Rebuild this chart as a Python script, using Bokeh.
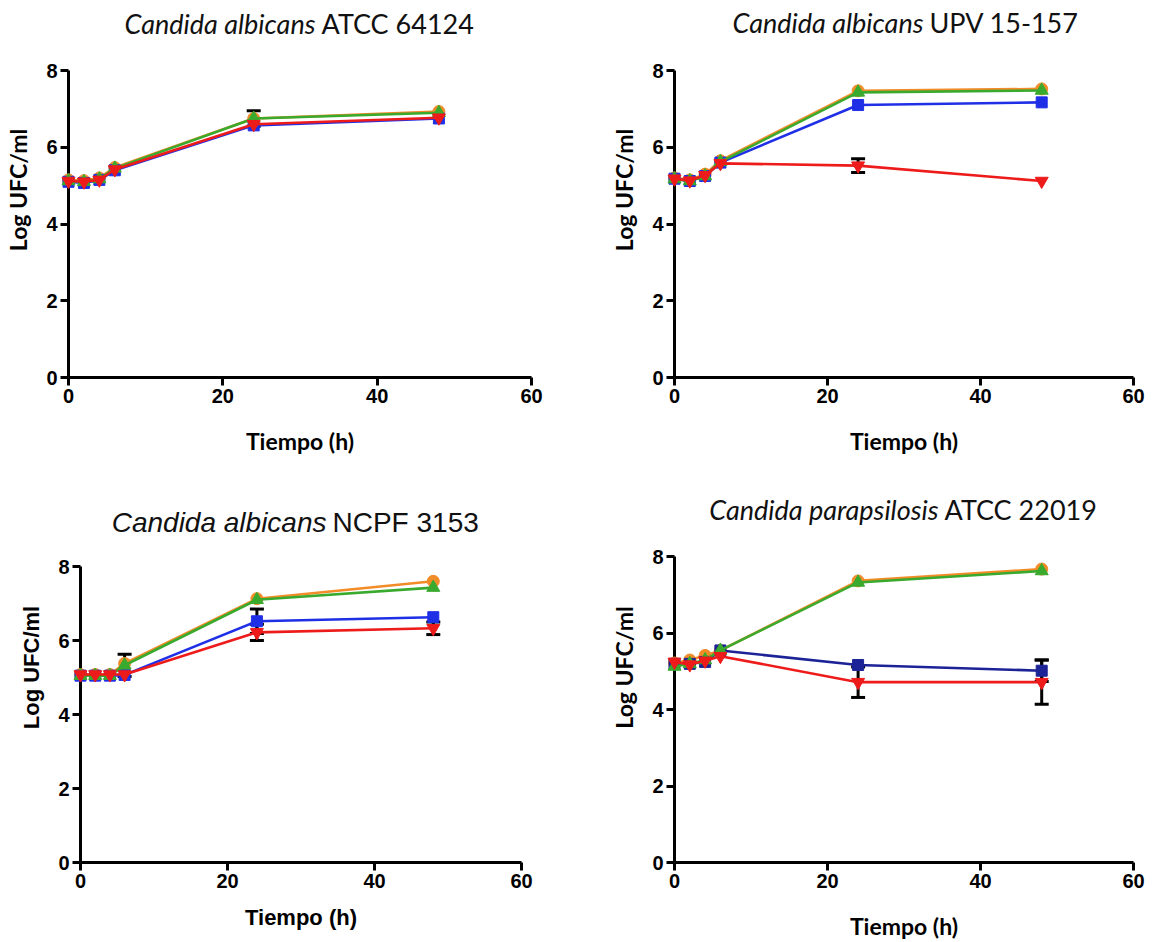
from bokeh.plotting import figure
from bokeh.layouts import column, row
from bokeh.models import Range1d, FixedTicker, Label, Whisker, TeeHead, ColumnDataSource
from bokeh.embed import file_html
from bokeh.resources import INLINE

# ---------------- data ----------------
tiempo = [0, 2, 4, 6, 24, 48]
x_ticks = [0, 20, 40, 60]
y_ticks = [0, 2, 4, 6, 8]

# Candida albicans ATCC 64124
p1_naranja = [5.15, 5.13, 5.20, 5.47, 6.75, 6.93]
p1_azul    = [5.10, 5.07, 5.15, 5.40, 6.57, 6.75]
p1_verde   = [5.12, 5.10, 5.17, 5.45, 6.75, 6.90]
p1_rojo    = [5.12, 5.10, 5.15, 5.42, 6.60, 6.77]
p1_sd_verde = [0, 0, 0, 0, 0.20, 0]

# Candida albicans UPV 15-157
p2_naranja = [5.20, 5.15, 5.30, 5.65, 7.47, 7.52]
p2_azul    = [5.18, 5.12, 5.25, 5.60, 7.10, 7.17]
p2_verde   = [5.17, 5.12, 5.25, 5.62, 7.43, 7.48]
p2_rojo    = [5.18, 5.13, 5.27, 5.58, 5.52, 5.12]
p2_sd_rojo = [0, 0, 0, 0, 0.18, 0]

# Candida albicans NCPF 3153
p3_naranja = [5.08, 5.08, 5.08, 5.38, 7.13, 7.60]
p3_azul    = [5.05, 5.05, 5.05, 5.07, 6.52, 6.63]
p3_verde   = [5.05, 5.05, 5.05, 5.33, 7.10, 7.43]
p3_rojo    = [5.08, 5.08, 5.08, 5.08, 6.22, 6.33]
p3_sd_verde = [0, 0, 0, 0.30, 0, 0]
p3_sd_azul  = [0, 0, 0, 0, 0.33, 0]
p3_sd_rojo  = [0, 0, 0, 0, 0.22, 0.17]

# Candida parapsilosis ATCC 22019
p4_naranja = [5.22, 5.30, 5.42, 5.55, 7.37, 7.68]
p4_azul    = [5.20, 5.20, 5.25, 5.55, 5.17, 5.02]
p4_verde   = [5.13, 5.20, 5.30, 5.55, 7.33, 7.63]
p4_rojo    = [5.25, 5.18, 5.28, 5.40, 4.72, 4.72]
p4_sd_azul = [0, 0, 0, 0, 0, 0.28]
p4_sd_rojo = [0, 0, 0, 0, 0.40, 0.58]

# ---------------- styling ----------------
NARANJA = "#F28C28"
AZUL = "#1F2FE6"
AZUL_OSC = "#1C2396"
VERDE = "#3AAA2E"
ROJO = "#EE1B1B"

CALIBRI_LIKE = "Lato"
ARIAL_LIKE = "Liberation Sans"


def make_panel(title_it, title_rest, series, errors, geom, fonts, x_standoff):
    W, H, fl, fr, ft, fb, t_split, t_y = geom
    title_font, title_size, label_font, label_size = fonts
    top_px = 2  # frame extends up to here so the title sits inside it
    y_end = 8.0 * (fb - top_px) / (fb - ft)
    p = figure(width=W, height=H, output_backend="svg", toolbar_location=None,
               x_range=Range1d(0, 60), y_range=Range1d(0, y_end),
               min_border_left=fl, min_border_right=W - fr,
               min_border_top=top_px, min_border_bottom=H - fb)
    p.outline_line_color = None
    p.grid.visible = False
    p.background_fill_color = "white"
    p.border_fill_color = "white"

    for ax, ticks in ((p.xaxis[0], x_ticks), (p.yaxis[0], y_ticks)):
        ax.ticker = FixedTicker(ticks=ticks)
        ax.axis_line_width = 3
        ax.axis_line_color = "black"
        ax.major_tick_line_width = 3
        ax.major_tick_line_color = "black"
        ax.major_tick_out = 8
        ax.major_tick_in = 0
        ax.minor_tick_line_color = None
        ax.major_label_text_font = ARIAL_LIKE
        ax.major_label_text_font_style = "bold"
        ax.major_label_text_font_size = "20px"
        ax.major_label_text_color = "black"
        ax.major_label_standoff = 3
        ax.axis_label_text_font = label_font
        ax.axis_label_text_font_style = "bold"
        ax.axis_label_text_font_size = label_size
        ax.axis_label_text_color = "black"
    p.yaxis[0].bounds = (0, 8)
    p.xaxis[0].bounds = (0, 60)
    p.xaxis.axis_label = "Tiempo (h)"
    p.yaxis.axis_label = "Log UFC/ml"
    p.xaxis.axis_label_standoff = x_standoff
    p.yaxis.axis_label_standoff = 11

    # error bars
    for vals, sd in errors:
        base, up, lo = [], [], []
        for t, v, s in zip(tiempo, vals, sd):
            if s > 0:
                base.append(t); up.append(v + s); lo.append(v - s)
        src = ColumnDataSource(dict(base=base, upper=up, lower=lo))
        w = Whisker(base="base", upper="upper", lower="lower", source=src,
                    line_color="black", line_width=3,
                    upper_head=TeeHead(size=14, line_width=3, line_color="black"),
                    lower_head=TeeHead(size=14, line_width=3, line_color="black"))
        p.add_layout(w)

    for vals, color, marker, size in series:
        p.line(tiempo, vals, line_color=color, line_width=2.6, level="overlay")
        p.scatter(tiempo, vals, marker=marker, size=size, fill_color=color,
                  line_color=color, level="overlay")

    # title: italic species + normal strain, placed relative to the frame
    def to_data(px, py):
        return (px - fl) / (fr - fl) * 60.0, (fb - py) / (fb - ft) * 8.0
    xs, ys = to_data(t_split - 3, t_y)
    xr, _ = to_data(t_split + 3, t_y)
    p.add_layout(Label(x=xs, y=ys, text=title_it, text_font=title_font,
                       text_font_style="italic", text_font_size=title_size,
                       text_align="right", text_baseline="middle", text_color="#111111"))
    p.add_layout(Label(x=xr, y=ys, text=title_rest, text_font=title_font,
                       text_font_style="normal", text_font_size=title_size,
                       text_align="left", text_baseline="middle", text_color="#111111"))
    return p


def series_set(n, a, v, r, azul=AZUL):
    return [(n, NARANJA, "circle", 12), (a, azul, "square", 11),
            (v, VERDE, "triangle", 13), (r, ROJO, "inverted_triangle", 13)]


FONTS_CAL = (CALIBRI_LIKE, "27px", CALIBRI_LIKE, "23px")
FONTS_ARI = (ARIAL_LIKE, "28px", ARIAL_LIKE, "22px")

f1 = make_panel("Candida albicans", "ATCC 64124",
                series_set(p1_naranja, p1_azul, p1_verde, p1_rojo),
                [(p1_verde, p1_sd_verde)],
                (577, 470, 68, 531, 70, 377, 318, 23), FONTS_CAL, 21)
f2 = make_panel("Candida albicans", "UPV 15-157",
                series_set(p2_naranja, p2_azul, p2_verde, p2_rojo),
                [(p2_rojo, p2_sd_rojo)],
                (577, 470, 97, 556, 70, 377, 349, 22), FONTS_CAL, 21)
f3 = make_panel("Candida albicans", "NCPF 3153",
                series_set(p3_naranja, p3_azul, p3_verde, p3_rojo),
                [(p3_verde, p3_sd_verde), (p3_azul, p3_sd_azul), (p3_rojo, p3_sd_rojo)],
                (577, 472, 80, 521, 96, 392, 329, 52), FONTS_ARI, 14)
f4 = make_panel("Candida parapsilosis", "ATCC 22019",
                series_set(p4_naranja, p4_azul, p4_verde, p4_rojo, azul=AZUL_OSC),
                [(p4_azul, p4_sd_azul), (p4_rojo, p4_sd_rojo)],
                (577, 472, 97, 556, 87, 395, 364, 39), FONTS_CAL, 21)

layout = column(row(f1, f2), row(f3, f4))
open("out.html", "w").write(file_html(layout, INLINE))
